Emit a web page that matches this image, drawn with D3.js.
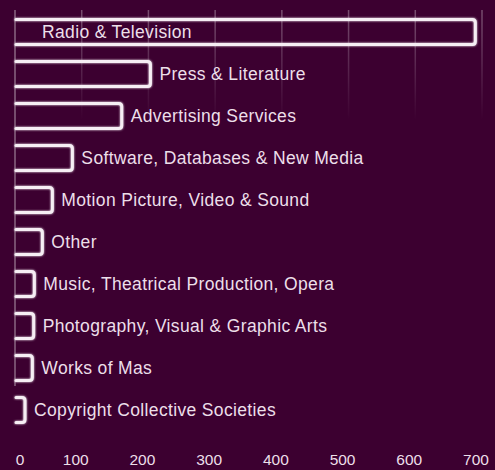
<!DOCTYPE html>
<html><head><meta charset="utf-8">
<script src="https://cdn.jsdelivr.net/npm/d3@7"></script>
<style>
html,body{margin:0;padding:0;background:#3c0030;}
svg{display:block;}
</style></head>
<body>
<svg id="chart" width="495" height="470"></svg>
<script>
const categories = ["Radio & Television","Press & Literature","Advertising Services","Software, Databases & New Media","Motion Picture, Video & Sound","Other","Music, Theatrical Production, Opera","Photography, Visual & Graphic Arts","Works of Mas","Copyright Collective Societies"];
const values = [690, 203, 160, 86, 56, 41, 29, 28, 26, 15];
const tickValues = [0,100,200,300,400,500,600,700];

const W = 495, H = 470;
const svg = d3.select("#chart");
svg.append("rect").attr("width",W).attr("height",H).attr("fill","#3c0030");

const defs = svg.append("defs");
const glow = defs.append("filter").attr("id","glow").attr("x","-10%").attr("y","-50%").attr("width","120%").attr("height","200%");
glow.append("feGaussianBlur").attr("in","SourceGraphic").attr("stdDeviation",1.2).attr("result","b");
const m = glow.append("feMerge");
m.append("feMergeNode").attr("in","b");
m.append("feMergeNode").attr("in","SourceGraphic");

const grad = defs.append("linearGradient").attr("id","gridfade").attr("x1",0).attr("y1",0).attr("x2",0).attr("y2",1);
grad.append("stop").attr("offset","0%").attr("stop-color","#ffffff").attr("stop-opacity",0.3);
grad.append("stop").attr("offset","100%").attr("stop-color","#ffffff").attr("stop-opacity",0);

const x = d3.scaleLinear().domain([0,700]).range([15,482]);
const y = d3.scaleBand().domain(categories).range([11,431]).paddingInner(0.4).paddingOuter(0.2);

// faint gridlines
svg.append("g").selectAll("rect").data(tickValues.filter(d=>d>0)).join("rect")
  .attr("x",d=>x(d)-0.75).attr("y",10).attr("width",1.5).attr("height",110)
  .attr("fill","url(#gridfade)");

// axis line
svg.append("line").attr("x1",x(0)).attr("x2",x(0)).attr("y1",10).attr("y2",386)
  .attr("stroke","#ffffff").attr("stroke-opacity",0.4).attr("stroke-width",1.5);

// bars (open on left, drawn as outline)
const data = categories.map((c,i)=>({c, v:values[i]}));
svg.append("g").attr("filter","url(#glow)").selectAll("path").data(data).join("path")
  .attr("d", d=>{
    const x0 = x(0)+1, x1 = x(d.v), y0 = y(d.c), y1 = y0 + y.bandwidth();
    const r = 3;
    return `M${x0},${y0} L${x1-r},${y0} Q${x1},${y0} ${x1},${y0+r} L${x1},${y1-r} Q${x1},${y1} ${x1-r},${y1} L${x0},${y1}`;
  })
  .attr("fill","none").attr("stroke","#f6eef4").attr("stroke-width",3)
  .attr("stroke-linejoin","round").attr("stroke-linecap","round");

// labels
svg.append("g").selectAll("text").data(data).join("text")
  .attr("x", d => d.v > 500 ? x(0)+27 : x(d.v)+9)
  .attr("y", d => y(d.c)+y.bandwidth()/2+6)
  .attr("fill","#ecdfe9")
  .attr("font-family","Liberation Sans, Arial, sans-serif")
  .attr("font-size",17.5)
  .attr("letter-spacing",0.35)
  .text(d=>d.c);

// x tick labels
svg.append("g").selectAll("text").data(tickValues).join("text")
  .attr("x", d=>x(d) + (d===0 ? 5 : -6))
  .attr("y", 465)
  .attr("text-anchor","middle")
  .attr("fill","#ecdfe9")
  .attr("font-family","Liberation Sans, Arial, sans-serif")
  .attr("font-size",15.5)
  .text(d=>d);
</script>
</body></html>
